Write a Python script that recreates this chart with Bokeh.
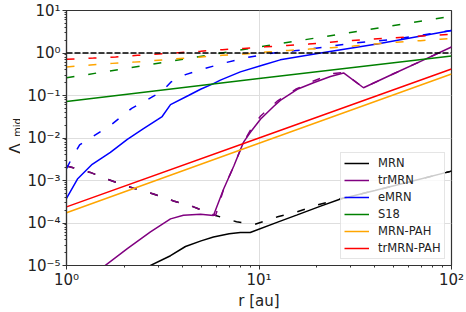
from math import pi
from bokeh.plotting import figure
from bokeh.layouts import row
from bokeh.models import (Range1d, FixedTicker, CustomJSTickFormatter, Legend,
                          LegendItem, Span, Label)
from bokeh.embed import file_html
from bokeh.resources import INLINE

# ---------------- data ----------------
x_ticks = [1, 10, 100]
y_ticks = [1e-5, 1e-4, 1e-3, 1e-2, 1e-1, 1, 10]
x_label = "r [au]"
y_label_main = "Λ"
y_label_sub = "mid"
unity_level = 1.0

series_labels = ["MRN", "trMRN", "eMRN", "S18", "MRN-PAH", "trMRN-PAH"]
series_colors = ["black", "purple", "blue", "green", "orange", "red"]

# MRN
mrn_r = [2.6, 3.47, 4.15, 5.0, 5.8, 7.0, 8.0, 9.0, 12.5, 15.8, 20.9, 26.5, 40.0, 60.0, 100.0]
mrn_v = [9.0e-6, 1.7e-5, 2.8e-5, 3.8e-5, 4.7e-5, 5.6e-5, 6.0e-5, 6.0e-5, 1.05e-4, 1.55e-4,
         2.5e-4, 3.67e-4, 5.8e-4, 9.2e-4, 1.66e-3]
mrn_d_r = [1.0, 1.33, 1.73, 2.23, 2.83, 3.6, 4.57, 5.95, 7.64, 9.36, 12.5, 15.8, 20.1, 26.5,
           40.0, 60.0, 100.0]
mrn_d_v = [2.2e-3, 1.55e-3, 9.7e-4, 6.6e-4, 4.8e-4, 3.3e-4, 2.4e-4, 1.5e-4, 1.07e-4, 9.1e-5,
           1.4e-4, 1.83e-4, 2.66e-4, 3.7e-4, 5.8e-4, 9.2e-4, 1.66e-3]

# trMRN
trmrn_r = [1.5, 2.07, 2.73, 3.47, 4.05, 4.97, 5.8, 6.55, 7.4, 8.3, 9.0, 10.2, 11.9, 12.9,
           15.8, 19.2, 23.5, 27.5, 34.9, 50.0, 70.0, 100.0]
trmrn_v = [8.2e-6, 2.5e-5, 6.2e-5, 1.25e-4, 1.52e-4, 1.6e-4, 1.5e-4, 6.3e-4, 2.2e-3, 7.9e-3,
           1.35e-2, 2.8e-2, 5.5e-2, 0.077, 0.14, 0.2, 0.28, 0.34, 0.152, 0.324, 0.655, 1.38]
trmrn_d_r = [1.0, 1.33, 1.73, 2.23, 2.83, 3.6, 4.57, 5.95, 6.55, 7.4, 8.3, 9.0, 10.2, 12.5,
             15.5, 19.2, 24.4, 27.5, 34.9, 50.0, 70.0, 100.0]
trmrn_d_v = [2.2e-3, 1.55e-3, 9.7e-4, 6.6e-4, 4.8e-4, 3.3e-4, 2.4e-4, 1.5e-4, 6.3e-4, 2.2e-3,
             7.9e-3, 1.5e-2, 3.3e-2, 7.5e-2, 0.14, 0.22, 0.33, 0.345, 0.152, 0.324, 0.655, 1.38]

# eMRN
emrn_r = [1.0, 1.14, 1.36, 1.69, 2.07, 2.5, 2.97, 3.14, 3.47, 4.3, 4.97, 5.8, 6.3, 8.0, 10.6,
          12.9, 20.9, 41.0, 100.0]
emrn_v = [3.8e-4, 1.08e-3, 2.4e-3, 4.6e-3, 9.3e-3, 1.63e-2, 2.7e-2, 3.2e-2, 6.1e-2, 0.1, 0.14,
          0.19, 0.23, 0.36, 0.53, 0.69, 1.0, 1.62, 3.4]
emrn_d_r = [1.0, 1.06, 1.17, 1.72, 2.18, 2.76, 3.14, 3.5, 4.15, 5.27, 6.78, 8.8, 11.2, 14.6,
            19.2, 24.0, 31.0, 51.0, 85.0, 100.0]
emrn_d_v = [1.9e-3, 3.2e-3, 6.9e-3, 2.1e-2, 5.0e-2, 9.0e-2, 0.125, 0.21, 0.31, 0.435, 0.6,
            0.79, 0.97, 1.1, 1.27, 1.46, 1.71, 2.12, 3.0, 3.4]

# S18
s18_r = [1.0, 10.0, 100.0]
s18_v = [0.072, 0.25, 0.85]
s18_d_r = [1.0, 10.0, 100.0]
s18_d_v = [0.26, 1.38, 7.3]

# MRN-PAH
mrnpah_r = [1.0, 10.0, 100.0]
mrnpah_v = [1.74e-4, 7.5e-3, 0.32]
mrnpah_d_r = [1.0, 1.33, 1.73, 2.23, 2.83, 3.6, 5.03, 6.45, 8.4, 10.9, 14.2, 18.3, 23.8, 30.9,
              40.0, 51.9, 69.0, 87.7, 100.0]
mrnpah_d_v = [0.47, 0.52, 0.57, 0.61, 0.66, 0.72, 0.81, 0.88, 0.95, 1.05, 1.15, 1.24, 1.33,
              1.46, 1.62, 1.8, 1.95, 2.12, 2.2]

# trMRN-PAH
trpah_r = [1.0, 10.0, 100.0]
trpah_v = [2.4e-4, 1.0e-2, 0.42]
trpah_d_r = [1.0, 1.38, 1.8, 2.34, 3.0, 3.82, 4.97, 6.45, 8.3, 10.8, 14.0, 18.1, 23.5, 30.5,
             39.3, 51.0, 66.5, 85.6, 100.0]
trpah_d_v = [0.71, 0.76, 0.81, 0.88, 0.95, 1.02, 1.1, 1.2, 1.28, 1.4, 1.5, 1.62, 1.8, 1.98,
             2.12, 2.28, 2.48, 2.63, 2.75]

# ---------------- layout constants ----------------
H = 312
LAB_W = 20
TOP, BOTTOM = 10, 45
FRAME_BOTTOM = H - BOTTOM  # 267

# ---------------- y-label strip (Λ_mid) ----------------
lab = figure(width=LAB_W, height=H, x_range=Range1d(0, 1), y_range=Range1d(0, 1),
             output_backend="svg", toolbar_location=None,
             min_border_left=0, min_border_right=0, min_border_top=TOP,
             min_border_bottom=BOTTOM, x_axis_location=None, y_axis_location=None)
lab.grid.visible = False
lab.outline_line_color = None
lab.background_fill_color = "white"
lab.border_fill_color = "white"
lab.add_layout(Label(x=15.2, y=FRAME_BOTTOM - 155.5, x_units="screen", y_units="screen",
                     text=y_label_main, angle=pi / 2, text_font="DejaVu Sans",
                     text_font_size="16px", text_color="#222222", text_align="left",
                     text_baseline="alphabetic"))
lab.add_layout(Label(x=16.8, y=FRAME_BOTTOM - 138.5, x_units="screen", y_units="screen",
                     text=y_label_sub, angle=pi / 2, text_font="DejaVu Sans",
                     text_font_size="10px", text_color="#222222", text_align="left",
                     text_baseline="alphabetic"))

# ---------------- main figure ----------------
p = figure(width=466 - LAB_W, height=H, x_axis_type="log", y_axis_type="log",
           x_range=Range1d(1, 100), y_range=Range1d(1e-5, 10),
           output_backend="svg", toolbar_location=None,
           min_border_left=66 - LAB_W, min_border_right=15, min_border_top=TOP,
           min_border_bottom=BOTTOM)
p.background_fill_color = "white"
p.border_fill_color = "white"
p.outline_line_color = "#333333"
p.outline_line_width = 1.2

x_minor = [k * 10.0 ** e for e in (0, 1) for k in range(2, 10)]
y_minor = [k * 10.0 ** e for e in range(-5, 1) for k in range(2, 10)]
xt = FixedTicker(ticks=x_ticks, minor_ticks=x_minor)
yt = FixedTicker(ticks=y_ticks, minor_ticks=y_minor)
p.xaxis.ticker = xt
p.yaxis.ticker = yt
p.xgrid.ticker = xt
p.ygrid.ticker = yt
p.xgrid.grid_line_color = "#dedede"
p.ygrid.grid_line_color = "#dedede"

fmt_code = r"""
const e = Math.round(Math.log10(tick));
const m = {"-": "\u207b", "0": "\u2070", "1": "\u00b9", "2": "\u00b2", "3": "\u00b3",
           "4": "\u2074", "5": "\u2075", "6": "\u2076", "7": "\u2077", "8": "\u2078", "9": "\u2079"};
return "10" + String(e).split("").map(c => m[c]).join("");
"""
for ax in (p.xaxis[0], p.yaxis[0]):
    ax.formatter = CustomJSTickFormatter(code=fmt_code)
    ax.axis_line_color = "#333333"
    ax.axis_line_width = 1.2
    ax.major_tick_line_color = "#333333"
    ax.minor_tick_line_color = "#333333"
    ax.major_tick_out = 4
    ax.major_tick_in = 0
    ax.minor_tick_out = 2
    ax.minor_tick_in = 0
    ax.major_label_text_font = "DejaVu Sans"
    ax.major_label_text_font_size = "15px"
    ax.major_label_text_color = "#222222"

p.yaxis.major_label_standoff = 2
p.xaxis.major_label_standoff = 1
p.xaxis.axis_label = x_label
p.xaxis.axis_label_text_font = "DejaVu Sans"
p.xaxis.axis_label_text_font_size = "15px"
p.xaxis.axis_label_text_font_style = "normal"
p.xaxis.axis_label_text_color = "#222222"
p.xaxis.axis_label_standoff = 0

# reference level
p.add_layout(Span(location=unity_level, dimension="width", line_color="black",
                  line_dash="6 2", line_width=1.5))

DASH = "8 14"
LW = 1.5
solid_data = [(mrn_r, mrn_v), (trmrn_r, trmrn_v), (emrn_r, emrn_v), (s18_r, s18_v),
              (mrnpah_r, mrnpah_v), (trpah_r, trpah_v)]
dash_data = [(mrn_d_r, mrn_d_v), (trmrn_d_r, trmrn_d_v), (emrn_d_r, emrn_d_v),
             (s18_d_r, s18_d_v), (mrnpah_d_r, mrnpah_d_v), (trpah_d_r, trpah_d_v)]

items = []
for (sr, sv), (dr, dv), lab_txt, col in zip(solid_data, dash_data, series_labels, series_colors):
    rs = p.line(sr, sv, line_color=col, line_width=LW)
    p.line(dr, dv, line_color=col, line_width=LW, line_dash=DASH)
    items.append(LegendItem(label=lab_txt, renderers=[rs]))

legend = Legend(items=items, location=(274, 6))
legend.border_line_color = "#cccccc"
legend.border_line_width = 1
legend.background_fill_alpha = 0.8
legend.label_text_font = "DejaVu Sans"
legend.label_text_font_size = "11.5px"
legend.label_text_color = "#222222"
legend.glyph_width = 25
legend.glyph_height = 14
legend.label_height = 14
legend.label_standoff = 9
legend.spacing = 3
legend.padding = 3
legend.margin = 0
p.add_layout(legend)

layout = row(lab, p, spacing=0)
open("out.html", "w", encoding="utf-8").write(file_html(layout, INLINE))
